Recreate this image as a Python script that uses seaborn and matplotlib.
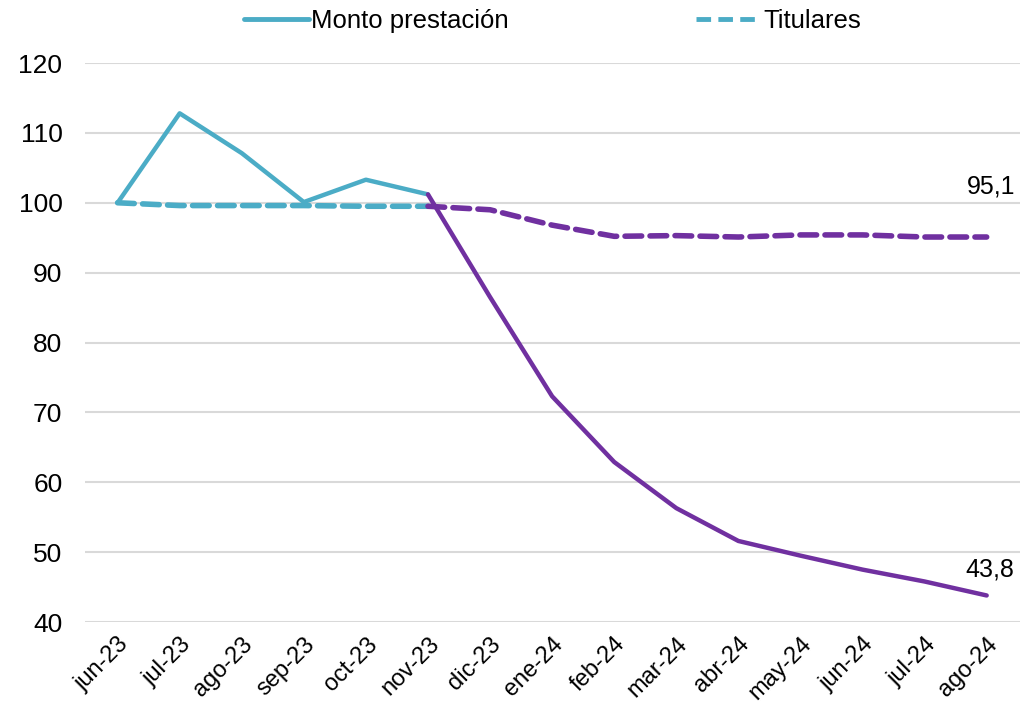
import numpy as np
import pandas as pd
import seaborn as sns
import matplotlib.pyplot as plt
from matplotlib.lines import Line2D

sns.set_theme(style="white")
plt.rcParams['font.family'] = ['Liberation Sans', 'DejaVu Sans']
plt.rcParams['text.color'] = 'black'

# data (index, jun-23 = 100)
months = ["jun-23", "jul-23", "ago-23", "sep-23", "oct-23", "nov-23", "dic-23",
          "ene-24", "feb-24", "mar-24", "abr-24", "may-24", "jun-24", "jul-24", "ago-24"]
monto = [100, 112.8, 107.1, 100.1, 103.3, 101.2, 86.5,
         72.3, 62.9, 56.3, 51.6, 49.5, 47.5, 45.8, 43.8]
titulares = [100, 99.6, 99.6, 99.6, 99.5, 99.5, 99.0,
             96.8, 95.2, 95.3, 95.1, 95.4, 95.4, 95.1, 95.1]
split = 5  # nov-23: colour changes here

teal = "#4BACC6"
purple = "#7030A0"
dash = (0, (3.0, 1.5))

df = pd.DataFrame({"x": np.arange(len(months)), "monto": monto, "titulares": titulares})
before = df.iloc[:split + 1]
after = df.iloc[split:]

fig = plt.figure(figsize=(10.33, 7.05), dpi=100)
ax = fig.add_axes([0.082, 0.1177, 0.905, 0.7929])

# titulares (dashed)
sns.lineplot(data=before, x="x", y="titulares", ax=ax, color=teal, lw=4,
             linestyle=dash, dash_capstyle="round")
sns.lineplot(data=after, x="x", y="titulares", ax=ax, color=purple, lw=4,
             linestyle=dash, dash_capstyle="round")
# monto prestacion (solid)
sns.lineplot(data=before, x="x", y="monto", ax=ax, color=teal, lw=3.2)
sns.lineplot(data=after, x="x", y="monto", ax=ax, color=purple, lw=3.2)

last = len(months) - 1
ax.annotate(f"{titulares[-1]:.1f}".replace(".", ","), (last, titulares[-1]),
            xytext=(3, 28), textcoords="offset points", ha="center", va="bottom", fontsize=18)
ax.annotate(f"{monto[-1]:.1f}".replace(".", ","), (last, monto[-1]),
            xytext=(2, 10), textcoords="offset points", ha="center", va="bottom", fontsize=18)

ax.set_ylim(40, 120)
ax.set_yticks(range(40, 121, 10))
ax.set_xlim(-0.53, last + 0.53)
ax.set_xticks(df["x"])
ax.set_xticklabels(months, rotation=45, ha="right", rotation_mode="anchor", fontsize=17)
ax.tick_params(axis="y", labelsize=19, pad=16, length=0, labelcolor="black")
ax.tick_params(axis="x", length=0, pad=8, labelcolor="black")
ax.yaxis.grid(True, color="#D9D9D9", lw=1.5)
ax.set_axisbelow(True)
for s in ax.spines.values():
    s.set_visible(False)
ax.set_xlabel("")
ax.set_ylabel("")

handles = [Line2D([], [], color=teal, lw=3.5),
           Line2D([], [], color=teal, lw=3.5, linestyle=dash)]
fig.legend(handles, ["Monto prestación", "Titulares"], loc="center", ncol=2,
           bbox_to_anchor=(0.535, 0.97), frameon=False, fontsize=18.5,
           handlelength=2.5, handletextpad=0.1, columnspacing=7.3)

fig.savefig("out.png", dpi=100)
